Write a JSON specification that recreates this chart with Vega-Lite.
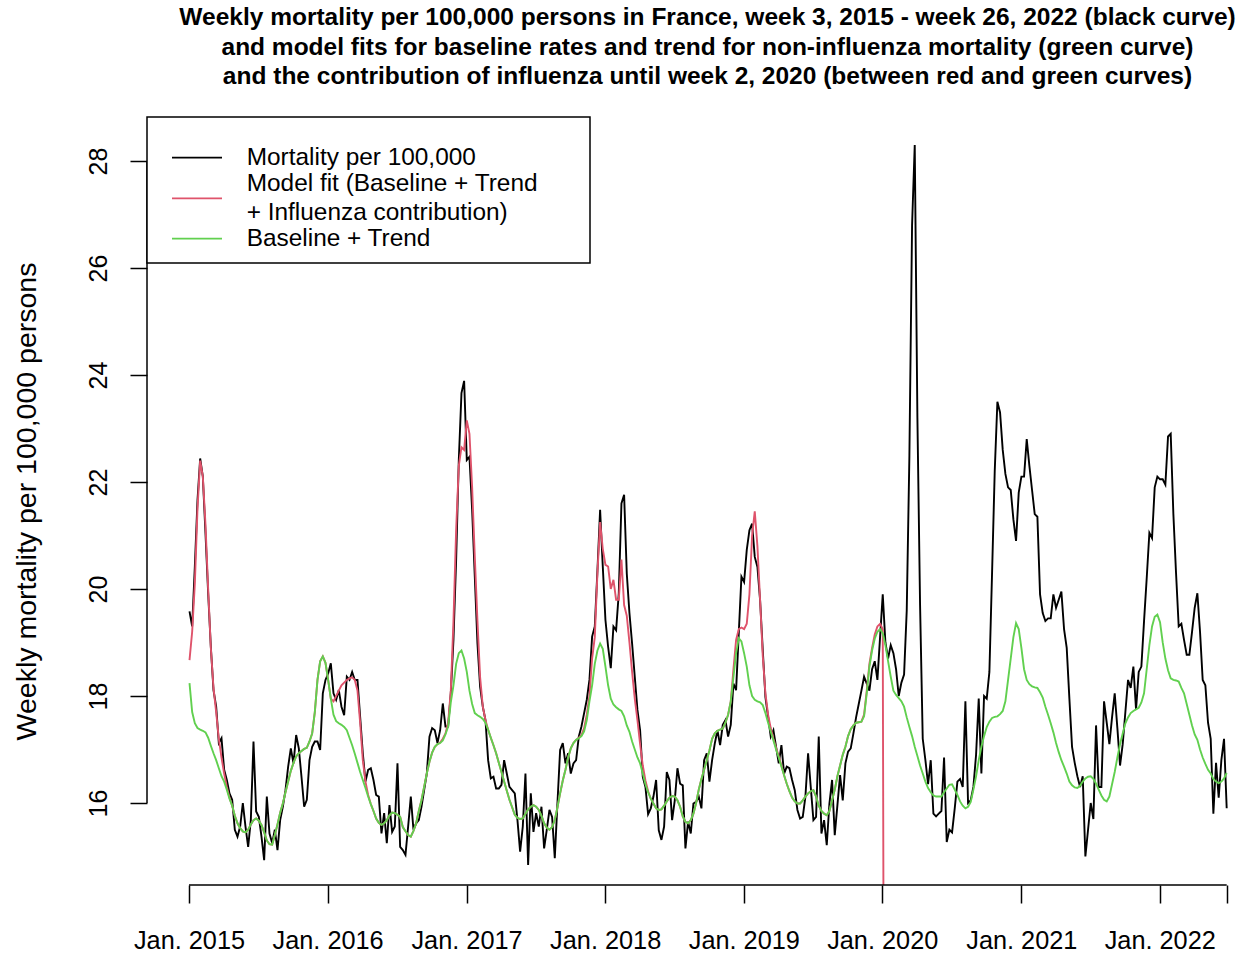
{
"$schema": "https://vega.github.io/schema/vega-lite/v6.json",
"width": 1099, "height": 768,
"autosize": {"type": "none"},
"padding": {"left": 147, "top": 117, "right": 0, "bottom": 70},
"background": "white",
"config": {"view": {"stroke": null}, "font": "Liberation Sans"},
"title": {"text": ["Weekly mortality per 100,000 persons in France, week 3, 2015 - week 26, 2022 (black curve)", "and model fits for baseline rates and trend for non-influenza mortality (green curve)", "and the contribution of influenza until week 2, 2020 (between red and green curves)"], "font": "Liberation Sans", "fontSize": 24.5, "fontWeight": "bold", "color": "black", "anchor": "middle", "dx": 11, "offset": 26.5, "lineHeight": 29.5},
"data": {"values": [
{"i":0,"m":19.58,"f":18.67,"b":18.24},{"i":1,"m":19.3,"f":19.2,"b":17.7},{"i":2,"m":20.42,"f":20.1,"b":17.49},{"i":3,"m":21.66,"f":21.5,"b":17.4},{"i":4,"m":22.44,"f":22.4,"b":17.37},{"i":5,"m":22.1,"f":22.1,"b":17.35},{"i":6,"m":21.04,"f":21.2,"b":17.32},{"i":7,"m":19.92,"f":20.0,"b":17.22},{"i":8,"m":18.92,"f":18.9,"b":17.07},{"i":9,"m":18.11,"f":18.15,"b":16.93},
{"i":10,"m":17.8,"f":17.7,"b":16.8},{"i":11,"m":17.12,"f":17.2,"b":16.65},{"i":12,"m":17.21,"f":16.85,"b":16.5},{"i":13,"m":16.62,"f":16.55,"b":16.4},{"i":14,"m":16.43,"f":16.3,"b":16.25},{"i":15,"m":16.18,"f":16.1,"b":16.08},{"i":16,"m":16.06,"f":15.95,"b":15.95},{"i":17,"m":15.5,"f":15.76,"b":15.76},{"i":18,"m":15.37,"f":15.62,"b":15.62},{"i":19,"m":15.56,"f":15.53,"b":15.53},
{"i":20,"m":16.0,"f":15.47,"b":15.47},{"i":21,"m":15.56,"f":15.45,"b":15.45},{"i":22,"m":15.18,"f":15.5,"b":15.5},{"i":23,"m":15.68,"f":15.6,"b":15.6},{"i":24,"m":17.15,"f":15.68,"b":15.68},{"i":25,"m":15.84,"f":15.71,"b":15.71},{"i":26,"m":15.74,"f":15.67,"b":15.67},{"i":27,"m":15.37,"f":15.59,"b":15.59},{"i":28,"m":14.93,"f":15.45,"b":15.45},{"i":29,"m":16.12,"f":15.3,"b":15.3},
{"i":30,"m":15.43,"f":15.23,"b":15.23},{"i":31,"m":15.25,"f":15.22,"b":15.22},{"i":32,"m":15.5,"f":15.4,"b":15.4},{"i":33,"m":15.12,"f":15.6,"b":15.6},{"i":34,"m":15.68,"f":15.82,"b":15.82},{"i":35,"m":15.93,"f":15.99,"b":15.99},{"i":36,"m":16.24,"f":16.2,"b":16.2},{"i":37,"m":16.68,"f":16.4,"b":16.4},{"i":38,"m":17.02,"f":16.6,"b":16.6},{"i":39,"m":16.74,"f":16.75,"b":16.75},
{"i":40,"m":17.27,"f":16.87,"b":16.87},{"i":41,"m":17.02,"f":16.93,"b":16.93},{"i":42,"m":16.49,"f":16.97,"b":16.97},{"i":43,"m":15.93,"f":17.01,"b":17.01},{"i":44,"m":16.06,"f":17.03,"b":17.03},{"i":45,"m":16.8,"f":17.15,"b":17.15},{"i":46,"m":17.05,"f":17.3,"b":17.3},{"i":47,"m":17.15,"f":17.7,"b":17.7},{"i":48,"m":17.15,"f":18.3,"b":18.3},{"i":49,"m":16.99,"f":18.65,"b":18.65},
{"i":50,"m":18.05,"f":18.74,"b":18.74},{"i":51,"m":18.3,"f":18.62,"b":18.62},{"i":52,"m":18.42,"f":18.3,"b":18.3},{"i":53,"m":18.61,"f":17.95,"b":17.95},{"i":54,"m":18.05,"f":17.9,"b":17.65},{"i":55,"m":17.93,"f":18.0,"b":17.53},{"i":56,"m":18.11,"f":18.1,"b":17.49},{"i":57,"m":17.8,"f":18.2,"b":17.46},{"i":58,"m":17.64,"f":18.25,"b":17.42},{"i":59,"m":18.36,"f":18.3,"b":17.36},
{"i":60,"m":18.3,"f":18.33,"b":17.22},{"i":61,"m":18.45,"f":18.35,"b":17.08},{"i":62,"m":18.3,"f":18.3,"b":16.92},{"i":63,"m":18.3,"f":18.1,"b":16.75},{"i":64,"m":17.61,"f":17.5,"b":16.58},{"i":65,"m":16.93,"f":16.8,"b":16.43},{"i":66,"m":16.4,"f":16.4,"b":16.28},{"i":67,"m":16.62,"f":16.15,"b":16.12},{"i":68,"m":16.65,"f":15.98,"b":15.98},{"i":69,"m":16.43,"f":15.85,"b":15.85},
{"i":70,"m":16.15,"f":15.71,"b":15.71},{"i":71,"m":16.12,"f":15.63,"b":15.63},{"i":72,"m":15.43,"f":15.59,"b":15.59},{"i":73,"m":15.81,"f":15.62,"b":15.62},{"i":74,"m":15.25,"f":15.68,"b":15.68},{"i":75,"m":15.96,"f":15.77,"b":15.77},{"i":76,"m":15.46,"f":15.82,"b":15.82},{"i":77,"m":15.56,"f":15.81,"b":15.81},{"i":78,"m":16.74,"f":15.78,"b":15.78},{"i":79,"m":15.18,"f":15.74,"b":15.74},
{"i":80,"m":15.12,"f":15.55,"b":15.55},{"i":81,"m":15.03,"f":15.47,"b":15.47},{"i":82,"m":15.56,"f":15.4,"b":15.4},{"i":83,"m":16.12,"f":15.37,"b":15.37},{"i":84,"m":15.5,"f":15.48,"b":15.48},{"i":85,"m":15.62,"f":15.62,"b":15.62},{"i":86,"m":15.68,"f":15.85,"b":15.85},{"i":87,"m":15.93,"f":16.05,"b":16.05},{"i":88,"m":16.24,"f":16.3,"b":16.3},{"i":89,"m":16.55,"f":16.55,"b":16.55},
{"i":90,"m":17.24,"f":16.77,"b":16.77},{"i":91,"m":17.4,"f":16.94,"b":16.94},{"i":92,"m":17.36,"f":17.05,"b":17.05},{"i":93,"m":17.12,"f":17.1,"b":17.1},{"i":94,"m":17.36,"f":17.13,"b":17.12},{"i":95,"m":17.86,"f":17.2,"b":17.17},{"i":96,"m":17.43,"f":17.3,"b":17.28},{"i":97,"m":17.43,"f":17.5,"b":17.43},{"i":98,"m":18.05,"f":18.1,"b":17.88},{"i":99,"m":19.05,"f":19.4,"b":18.2},
{"i":100,"m":20.54,"f":21.1,"b":18.6},{"i":101,"m":22.41,"f":22.3,"b":18.8},{"i":102,"m":23.66,"f":22.65,"b":18.85},{"i":103,"m":23.89,"f":22.6,"b":18.7},{"i":104,"m":22.41,"f":23.15,"b":18.45},{"i":105,"m":22.47,"f":22.9,"b":18.1},{"i":106,"m":21.48,"f":21.9,"b":17.85},{"i":107,"m":20.23,"f":20.6,"b":17.68},{"i":108,"m":18.98,"f":19.4,"b":17.64},{"i":109,"m":18.17,"f":18.35,"b":17.61},
{"i":110,"m":17.8,"f":17.8,"b":17.57},{"i":111,"m":17.55,"f":17.55,"b":17.5},{"i":112,"m":16.8,"f":17.37,"b":17.37},{"i":113,"m":16.46,"f":17.22,"b":17.22},{"i":114,"m":16.49,"f":17.08,"b":17.08},{"i":115,"m":16.27,"f":16.93,"b":16.93},{"i":116,"m":16.27,"f":16.75,"b":16.75},{"i":117,"m":16.34,"f":16.58,"b":16.58},{"i":118,"m":16.8,"f":16.4,"b":16.4},{"i":119,"m":16.55,"f":16.23,"b":16.23},
{"i":120,"m":16.3,"f":16.06,"b":16.06},{"i":121,"m":16.24,"f":15.92,"b":15.92},{"i":122,"m":16.18,"f":15.78,"b":15.78},{"i":123,"m":15.68,"f":15.72,"b":15.72},{"i":124,"m":15.09,"f":15.7,"b":15.7},{"i":125,"m":15.56,"f":15.71,"b":15.71},{"i":126,"m":16.55,"f":15.8,"b":15.8},{"i":127,"m":14.84,"f":15.88,"b":15.88},{"i":128,"m":16.18,"f":15.93,"b":15.93},{"i":129,"m":15.46,"f":15.96,"b":15.96},
{"i":130,"m":15.81,"f":15.93,"b":15.93},{"i":131,"m":15.56,"f":15.87,"b":15.87},{"i":132,"m":15.93,"f":15.76,"b":15.76},{"i":133,"m":15.15,"f":15.62,"b":15.62},{"i":134,"m":15.5,"f":15.54,"b":15.54},{"i":135,"m":15.87,"f":15.5,"b":15.5},{"i":136,"m":15.74,"f":15.55,"b":15.55},{"i":137,"m":14.97,"f":15.68,"b":15.68},{"i":138,"m":16.0,"f":15.92,"b":15.92},{"i":139,"m":16.99,"f":16.18,"b":16.18},
{"i":140,"m":17.12,"f":16.42,"b":16.42},{"i":141,"m":16.74,"f":16.62,"b":16.62},{"i":142,"m":16.93,"f":16.85,"b":16.85},{"i":143,"m":16.55,"f":17.02,"b":17.02},{"i":144,"m":16.74,"f":17.12,"b":17.12},{"i":145,"m":16.8,"f":17.18,"b":17.18},{"i":146,"m":17.24,"f":17.22,"b":17.21},{"i":147,"m":17.43,"f":17.27,"b":17.25},{"i":148,"m":17.68,"f":17.4,"b":17.34},{"i":149,"m":17.93,"f":17.65,"b":17.55},
{"i":150,"m":18.3,"f":18.0,"b":17.9},{"i":151,"m":19.11,"f":18.7,"b":18.2},{"i":152,"m":19.3,"f":19.1,"b":18.6},{"i":153,"m":20.35,"f":20.3,"b":18.85},{"i":154,"m":21.48,"f":21.25,"b":18.98},{"i":155,"m":20.42,"f":20.75,"b":18.88},{"i":156,"m":19.42,"f":20.45,"b":18.55},{"i":157,"m":18.92,"f":20.42,"b":18.2},{"i":158,"m":18.52,"f":20.0,"b":17.95},{"i":159,"m":19.3,"f":20.17,"b":17.84},
{"i":160,"m":19.23,"f":19.8,"b":17.79},{"i":161,"m":19.92,"f":19.8,"b":17.75},{"i":162,"m":21.6,"f":20.55,"b":17.72},{"i":163,"m":21.76,"f":19.7,"b":17.62},{"i":164,"m":20.29,"f":19.5,"b":17.45},{"i":165,"m":19.55,"f":19.0,"b":17.33},{"i":166,"m":18.98,"f":18.45,"b":17.15},{"i":167,"m":18.36,"f":17.95,"b":17.0},{"i":168,"m":17.74,"f":17.55,"b":16.85},{"i":169,"m":17.36,"f":17.1,"b":16.74},
{"i":170,"m":16.49,"f":16.7,"b":16.55},{"i":171,"m":16.3,"f":16.42,"b":16.35},{"i":172,"m":15.79,"f":16.22,"b":16.2},{"i":173,"m":15.9,"f":16.08,"b":16.08},{"i":174,"m":16.12,"f":15.99,"b":15.99},{"i":175,"m":16.43,"f":15.9,"b":15.9},{"i":176,"m":15.49,"f":15.87,"b":15.87},{"i":177,"m":15.31,"f":15.88,"b":15.88},{"i":178,"m":15.56,"f":15.95,"b":15.95},{"i":179,"m":16.58,"f":16.03,"b":16.03},
{"i":180,"m":16.43,"f":16.1,"b":16.1},{"i":181,"m":15.68,"f":16.13,"b":16.13},{"i":182,"m":16.05,"f":16.12,"b":16.12},{"i":183,"m":16.65,"f":16.05,"b":16.05},{"i":184,"m":16.36,"f":15.93,"b":15.93},{"i":185,"m":16.33,"f":15.75,"b":15.75},{"i":186,"m":15.15,"f":15.65,"b":15.65},{"i":187,"m":15.65,"f":15.62,"b":15.62},{"i":188,"m":15.43,"f":15.68,"b":15.68},{"i":189,"m":15.99,"f":15.8,"b":15.8},
{"i":190,"m":16.02,"f":16.0,"b":16.0},{"i":191,"m":16.12,"f":16.25,"b":16.25},{"i":192,"m":15.9,"f":16.45,"b":16.45},{"i":193,"m":16.8,"f":16.62,"b":16.62},{"i":194,"m":16.93,"f":16.8,"b":16.8},{"i":195,"m":16.4,"f":16.98,"b":16.98},{"i":196,"m":16.8,"f":17.2,"b":17.2},{"i":197,"m":17.11,"f":17.3,"b":17.3},{"i":198,"m":17.36,"f":17.35,"b":17.35},{"i":199,"m":17.08,"f":17.37,"b":17.37},
{"i":200,"m":17.46,"f":17.39,"b":17.39},{"i":201,"m":17.55,"f":17.5,"b":17.5},{"i":202,"m":17.24,"f":17.65,"b":17.65},{"i":203,"m":17.46,"f":17.9,"b":17.9},{"i":204,"m":18.23,"f":18.5,"b":18.35},{"i":205,"m":18.11,"f":19.05,"b":18.8},{"i":206,"m":19.17,"f":19.25,"b":19.08},{"i":207,"m":20.23,"f":19.28,"b":19.02},{"i":208,"m":20.13,"f":19.25,"b":18.8},{"i":209,"m":20.73,"f":19.35,"b":18.55},
{"i":210,"m":21.1,"f":19.9,"b":18.2},{"i":211,"m":21.22,"f":21.0,"b":18.0},{"i":212,"m":20.6,"f":21.45,"b":17.93},{"i":213,"m":20.41,"f":20.8,"b":17.9},{"i":214,"m":19.79,"f":19.8,"b":17.88},{"i":215,"m":18.86,"f":18.75,"b":17.83},{"i":216,"m":17.98,"f":18.05,"b":17.68},{"i":217,"m":17.61,"f":17.65,"b":17.5},{"i":218,"m":17.24,"f":17.4,"b":17.33},{"i":219,"m":17.36,"f":17.2,"b":17.17},
{"i":220,"m":17.05,"f":17.03,"b":17.0},{"i":221,"m":16.74,"f":16.88,"b":16.85},{"i":222,"m":17.08,"f":16.7,"b":16.68},{"i":223,"m":16.55,"f":16.52,"b":16.52},{"i":224,"m":16.68,"f":16.36,"b":16.36},{"i":225,"m":16.65,"f":16.22,"b":16.22},{"i":226,"m":16.43,"f":16.1,"b":16.1},{"i":227,"m":16.24,"f":16.03,"b":16.03},{"i":228,"m":15.87,"f":15.99,"b":15.99},{"i":229,"m":15.71,"f":15.99,"b":15.99},
{"i":230,"m":15.74,"f":16.05,"b":16.05},{"i":231,"m":16.12,"f":16.12,"b":16.12},{"i":232,"m":16.93,"f":16.18,"b":16.18},{"i":233,"m":16.3,"f":16.22,"b":16.22},{"i":234,"m":15.68,"f":16.24,"b":16.24},{"i":235,"m":15.74,"f":16.12,"b":16.12},{"i":236,"m":17.24,"f":15.95,"b":15.95},{"i":237,"m":15.43,"f":15.85,"b":15.85},{"i":238,"m":15.68,"f":15.8,"b":15.8},{"i":239,"m":15.21,"f":15.77,"b":15.77},
{"i":240,"m":15.99,"f":15.85,"b":15.85},{"i":241,"m":16.43,"f":16.05,"b":16.05},{"i":242,"m":15.4,"f":16.25,"b":16.25},{"i":243,"m":15.96,"f":16.5,"b":16.5},{"i":244,"m":16.52,"f":16.7,"b":16.7},{"i":245,"m":16.05,"f":16.9,"b":16.9},{"i":246,"m":16.74,"f":17.05,"b":17.05},{"i":247,"m":16.96,"f":17.25,"b":17.25},{"i":248,"m":17.02,"f":17.38,"b":17.38},{"i":249,"m":17.3,"f":17.45,"b":17.45},
{"i":250,"m":17.6,"f":17.5,"b":17.5},{"i":251,"m":17.85,"f":17.51,"b":17.51},{"i":252,"m":18.1,"f":17.52,"b":17.52},{"i":253,"m":18.36,"f":17.65,"b":17.62},{"i":254,"m":18.23,"f":18.1,"b":18.05},{"i":255,"m":18.1,"f":18.6,"b":18.55},{"i":256,"m":18.5,"f":18.9,"b":18.85},{"i":257,"m":18.65,"f":19.15,"b":19.07},{"i":258,"m":18.3,"f":19.3,"b":19.2},{"i":259,"m":19.1,"f":19.35,"b":19.25},
{"i":260,"m":19.9,"f":19.25,"b":19.17},{"i":261,"m":19.0,"f":0,"b":18.95},{"i":262,"m":18.7,"b":18.65},{"i":263,"m":18.95,"b":18.36},{"i":264,"m":18.8,"b":18.1},{"i":265,"m":18.5,"b":18.02},{"i":266,"m":18.0,"b":17.96},{"i":267,"m":18.25,"b":17.9},{"i":268,"m":18.4,"b":17.8},{"i":269,"m":19.6,"b":17.6},
{"i":270,"m":22.5,"b":17.42},{"i":271,"m":26.8,"b":17.25},{"i":272,"m":28.3,"b":17.05},{"i":273,"m":23.2,"b":16.88},{"i":274,"m":19.7,"b":16.7},{"i":275,"m":17.2,"b":16.55},{"i":276,"m":16.8,"b":16.4},{"i":277,"m":16.35,"b":16.28},{"i":278,"m":16.8,"b":16.2},{"i":279,"m":15.8,"b":16.14},
{"i":280,"m":15.75,"b":16.12},{"i":281,"m":15.8,"b":16.12},{"i":282,"m":15.85,"b":16.12},{"i":283,"m":16.85,"b":16.2},{"i":284,"m":15.27,"b":16.27},{"i":285,"m":15.5,"b":16.34},{"i":286,"m":15.45,"b":16.35},{"i":287,"m":15.9,"b":16.25},{"i":288,"m":16.4,"b":16.15},{"i":289,"m":16.45,"b":16.03},
{"i":290,"m":16.3,"b":15.95},{"i":291,"m":17.9,"b":15.9},{"i":292,"m":16.0,"b":15.93},{"i":293,"m":16.05,"b":16.02},{"i":294,"m":16.3,"b":16.25},{"i":295,"m":16.9,"b":16.5},{"i":296,"m":17.95,"b":16.8},{"i":297,"m":16.55,"b":17.05},{"i":298,"m":18.0,"b":17.25},{"i":299,"m":17.95,"b":17.42},
{"i":300,"m":18.45,"b":17.52},{"i":301,"m":20.3,"b":17.59},{"i":302,"m":22.2,"b":17.61},{"i":303,"m":23.5,"b":17.62},{"i":304,"m":23.3,"b":17.66},{"i":305,"m":22.6,"b":17.72},{"i":306,"m":22.15,"b":17.9},{"i":307,"m":21.9,"b":18.3},{"i":308,"m":21.85,"b":18.7},{"i":309,"m":21.3,"b":19.1},
{"i":310,"m":20.9,"b":19.36},{"i":311,"m":21.8,"b":19.25},{"i":312,"m":22.1,"b":18.9},{"i":313,"m":22.1,"b":18.5},{"i":314,"m":22.8,"b":18.3},{"i":315,"m":22.3,"b":18.22},{"i":316,"m":21.85,"b":18.18},{"i":317,"m":21.4,"b":18.16},{"i":318,"m":21.35,"b":18.15},{"i":319,"m":19.9,"b":18.07},
{"i":320,"m":19.55,"b":17.97},{"i":321,"m":19.4,"b":17.8},{"i":322,"m":19.45,"b":17.65},{"i":323,"m":19.45,"b":17.49},{"i":324,"m":19.9,"b":17.32},{"i":325,"m":19.65,"b":17.12},{"i":326,"m":19.8,"b":16.95},{"i":327,"m":19.95,"b":16.8},{"i":328,"m":19.25,"b":16.68},{"i":329,"m":18.9,"b":16.55},
{"i":330,"m":17.95,"b":16.4},{"i":331,"m":17.05,"b":16.33},{"i":332,"m":16.75,"b":16.29},{"i":333,"m":16.5,"b":16.28},{"i":334,"m":16.3,"b":16.32},{"i":335,"m":16.5,"b":16.4},{"i":336,"m":15.0,"b":16.46},{"i":337,"m":15.5,"b":16.49},{"i":338,"m":16.0,"b":16.5},{"i":339,"m":15.7,"b":16.45},
{"i":340,"m":17.45,"b":16.36},{"i":341,"m":16.3,"b":16.25},{"i":342,"m":16.3,"b":16.14},{"i":343,"m":17.9,"b":16.06},{"i":344,"m":17.5,"b":16.03},{"i":345,"m":17.1,"b":16.12},{"i":346,"m":17.6,"b":16.35},{"i":347,"m":18.05,"b":16.58},{"i":348,"m":17.4,"b":16.85},{"i":349,"m":16.7,"b":17.1},
{"i":350,"m":17.1,"b":17.3},{"i":351,"m":17.7,"b":17.49},{"i":352,"m":18.3,"b":17.6},{"i":353,"m":18.15,"b":17.68},{"i":354,"m":18.55,"b":17.72},{"i":355,"m":17.75,"b":17.75},{"i":356,"m":18.45,"b":17.78},{"i":357,"m":18.55,"b":17.88},{"i":358,"m":19.4,"b":18.05},{"i":359,"m":20.2,"b":18.5},
{"i":360,"m":21.05,"b":18.95},{"i":361,"m":20.95,"b":19.3},{"i":362,"m":21.9,"b":19.48},{"i":363,"m":22.1,"b":19.52},{"i":364,"m":22.05,"b":19.38},{"i":365,"m":22.05,"b":19.0},{"i":366,"m":21.95,"b":18.7},{"i":367,"m":22.85,"b":18.48},{"i":368,"m":22.9,"b":18.33},{"i":369,"m":21.4,"b":18.3},
{"i":370,"m":20.3,"b":18.29},{"i":371,"m":19.3,"b":18.27},{"i":372,"m":19.35,"b":18.15},{"i":373,"m":19.05,"b":18.05},{"i":374,"m":18.77,"b":17.85},{"i":375,"m":18.77,"b":17.65},{"i":376,"m":19.2,"b":17.45},{"i":377,"m":19.65,"b":17.28},{"i":378,"m":19.92,"b":17.18},{"i":379,"m":19.2,"b":17.0},
{"i":380,"m":18.3,"b":16.85},{"i":381,"m":18.2,"b":16.73},{"i":382,"m":17.5,"b":16.62},{"i":383,"m":17.2,"b":16.55},{"i":384,"m":15.8,"b":16.45},{"i":385,"m":16.75,"b":16.4},{"i":386,"m":16.1,"b":16.37},{"i":387,"m":16.8,"b":16.4},{"i":388,"m":17.2,"b":16.46},{"i":389,"m":15.9,"b":16.56}
]},
"layer": [
{"mark": {"type": "line", "strokeWidth": 1.9, "clip": true},
 "encoding": {
  "x": {"field": "i", "type": "quantitative", "scale": {"domain": [-15.94, 396.24], "nice": false, "zero": false},
        "axis": {"values": [-0.19, 51.8, 103.9, 155.9, 207.9, 259.8, 311.97, 363.9, 389], "labelExpr": "datum.value > 388 ? '' : 'Jan. ' + (2015 + round((datum.value + 0.19) / 52.15))", "domain": false, "grid": false, "ticks": true, "tickSize": 18, "tickWidth": 1.5, "tickColor": "black", "labelFontSize": 25.3, "labelFont": "Liberation Sans", "labelColor": "black", "labelPadding": 25, "labelOverlap": false, "labelFlush": false, "labelBound": false, "title": null}},
  "y": {"field": "m", "type": "quantitative", "scale": {"domain": [14.467, 28.822], "nice": false, "zero": false},
        "axis": {"values": [16, 18, 20, 22, 24, 26, 28], "domain": false, "grid": false, "ticks": true, "tickSize": 17, "tickWidth": 1.5, "tickColor": "black", "labelAngle": 270, "labelAlign": "center", "labelBaseline": "alphabetic", "labelPadding": 24, "labelFontSize": 25, "labelFont": "Liberation Sans", "labelColor": "black", "labelOverlap": false, "labelBound": false, "labelFlush": false, "title": "Weekly mortality per 100,000 persons", "titleFont": "Liberation Sans", "titleFontSize": 28.5, "titleFontWeight": "normal", "titleColor": "black", "titleAngle": 270, "titleAlign": "center", "titleBaseline": "alphabetic", "titleX": -112, "titleY": 384}},
  "color": {"datum": "Mortality per 100,000", "type": "nominal",
            "scale": {"domain": ["Mortality per 100,000", "Model fit", "Baseline + Trend"], "range": ["#000000", "#DF536B", "#61D04F"]},
            "legend": {"orient": "none", "legendX": 0, "legendY": 0, "direction": "vertical",
                       "title": "_______________________________________________________________",
                       "titleFontSize": 11.95, "titlePadding": 4.5, "titleFont": "Liberation Sans", "titleLimit": 2000, "titleColor": "white", "titleOpacity": 0,
                       "padding": 12, "strokeColor": "black", "fillColor": "white",
                       "symbolType": "M-4,0H4", "symbolSize": 156.25, "symbolStrokeWidth": 1.9, "symbolOffset": 25.8,
                       "labelFontSize": 24.4, "labelFont": "Liberation Sans", "labelColor": "black", "labelOffset": 37.5, "labelLimit": 2000,
                       "labelExpr": "datum.label === 'Model fit' ? ['Model fit (Baseline + Trend', '+ Influenza contribution)'] : datum.label",
                       "rowPadding": 1.5,
                       "encode": {"legend": {"update": {"strokeWidth": {"value": 1.5}}}, "symbols": {"update": {"y": {"signal": "datum.label === 'Model fit' ? 26.4 : 12.2"}}}, "labels": {"update": {"lineHeight": {"value": 28.4}}}}}}
 }},
{"transform": [{"filter": "isValid(datum.f)"}], "mark": {"type": "line", "strokeWidth": 1.9, "clip": true},
 "encoding": {"x": {"field": "i", "type": "quantitative"}, "y": {"field": "f", "type": "quantitative"}, "color": {"datum": "Model fit", "type": "nominal", "legend": null}}},
{"mark": {"type": "line", "strokeWidth": 1.9, "clip": true},
 "encoding": {"x": {"field": "i", "type": "quantitative"}, "y": {"field": "b", "type": "quantitative"}, "color": {"datum": "Baseline + Trend", "type": "nominal", "legend": null}}},
{"data": {"values": [{}]}, "mark": {"type": "rule", "color": "black", "strokeWidth": 1.5}, "encoding": {"x": {"datum": -15.94, "type": "quantitative"}, "y": {"datum": 16, "type": "quantitative"}, "y2": {"datum": 28}}},
{"data": {"values": [{}]}, "mark": {"type": "rule", "color": "black", "strokeWidth": 1.5}, "encoding": {"x": {"datum": -0.19, "type": "quantitative"}, "x2": {"datum": 389}, "y": {"datum": 14.467, "type": "quantitative"}}}
]
}
